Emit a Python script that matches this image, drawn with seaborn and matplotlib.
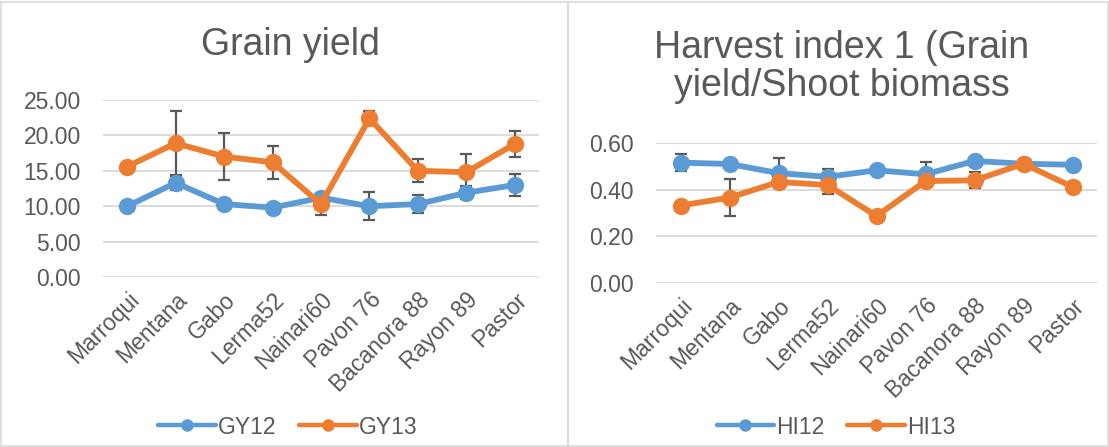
import seaborn as sns
import matplotlib.pyplot as plt
from matplotlib.patches import Rectangle

# Data
cultivars = ["Marroqui", "Mentana", "Gabo", "Lerma52", "Nainari60",
             "Pavon 76", "Bacanora 88", "Rayon 89", "Pastor"]
gy12 = [10.0, 13.3, 10.3, 9.8, 11.2, 10.0, 10.3, 11.9, 13.0]
gy12_err = [0.2, 1.0, 0.4, 0.2, 0.4, 2.0, 1.3, 0.9, 1.6]
gy13 = [15.6, 18.9, 17.0, 16.2, 10.3, 22.4, 15.0, 14.8, 18.8]
gy13_err = [0.3, 4.5, 3.3, 2.3, 1.5, 1.0, 1.6, 2.6, 1.8]
hi12 = [0.516, 0.510, 0.471, 0.455, 0.483, 0.466, 0.523, 0.511, 0.507]
hi12_err = [0.037, 0.005, 0.064, 0.035, 0.005, 0.053, 0.012, 0.005, 0.005]
hi13 = [0.332, 0.366, 0.433, 0.420, 0.287, 0.437, 0.440, 0.511, 0.412]
hi13_err = [0.005, 0.079, 0.015, 0.040, 0.005, 0.015, 0.034, 0.005, 0.005]

BLUE = "#5B9BD5"
ORANGE = "#ED7D31"
TEXT = "#595959"

sns.set_style("white")
plt.rcParams["font.family"] = ["Liberation Sans", "DejaVu Sans"]

fig = plt.figure(figsize=(11.09, 4.47), dpi=100)
W, H = 1109, 447

# panel borders
for x0, x1 in [(1, 568), (568, 1108)]:
    fig.patches.append(Rectangle((x0 / W, 1 / H), (x1 - x0) / W, (H - 3) / H,
                                 transform=fig.transFigure, fill=False,
                                 edgecolor="#D9D9D9", linewidth=1.2))


def draw_panel(rect, s1, e1, s2, e2, names, ymax, ystep, legend_x):
    ax = fig.add_axes(rect)
    for vals, errs, col, name in [(s1, e1, BLUE, names[0]), (s2, e2, ORANGE, names[1])]:
        sns.lineplot(x=cultivars, y=vals, ax=ax, color=col, linewidth=4.2,
                     marker="o", markersize=12.5, markeredgewidth=0,
                     label=name, sort=False, zorder=3)
        ax.errorbar(cultivars, vals, yerr=errs, fmt="none", ecolor=TEXT,
                    elinewidth=1.6, capsize=4, capthick=1.6, zorder=2.5)
    ax.set_xlim(-0.5, 8.5)
    ax.set_ylim(0, ymax)
    ticks = [i * ystep for i in range(int(round(ymax / ystep)) + 1)]
    ax.set_yticks(ticks)
    ax.set_yticklabels(["{:.2f}".format(t) for t in ticks])
    ax.grid(axis="y", color="#D9D9D9", linewidth=1.3)
    ax.set_axisbelow(True)
    for sp in ax.spines.values():
        sp.set_visible(False)
    ax.tick_params(axis="y", length=0, labelsize=16.5, colors=TEXT, pad=16)
    ax.tick_params(axis="x", length=0, labelsize=16.5, colors=TEXT, pad=8)
    plt.setp(ax.get_xticklabels(), rotation=45, ha="right",
             rotation_mode="anchor")
    ax.set_xlabel("")
    ax.set_ylabel("")
    leg = ax.legend(loc="center", bbox_to_anchor=(legend_x, 1 - 427 / H),
                    bbox_transform=fig.transFigure, ncol=2,
                    frameon=False, fontsize=16.5, handlelength=2.5,
                    columnspacing=1.0, handletextpad=0.1)
    for t in leg.get_texts():
        t.set_color(TEXT)
    for h in leg.legend_handles:
        h.set_markersize(9)
        h.set_linewidth(3.2)
    return ax


draw_panel([103 / W, 1 - 277 / H, 436 / W, 177 / H], gy12, gy12_err, gy13, gy13_err,
           ["GY12", "GY13"], 25, 5, 288 / W)
draw_panel([656 / W, 1 - 283 / H, 441 / W, 140 / H], hi12, hi12_err, hi13, hi13_err,
           ["HI12", "HI13"], 0.6, 0.2, 836 / W)

fig.text(290 / W, 1 - 45 / H, "Grain yield", ha="center", va="center",
         fontsize=27, color=TEXT)
fig.text(842 / W, 1 - 67 / H, "Harvest index 1 (Grain\nyield/Shoot biomass",
         ha="center", va="center", fontsize=27, color=TEXT, linespacing=1.05)

fig.savefig("out.png", dpi=100)
